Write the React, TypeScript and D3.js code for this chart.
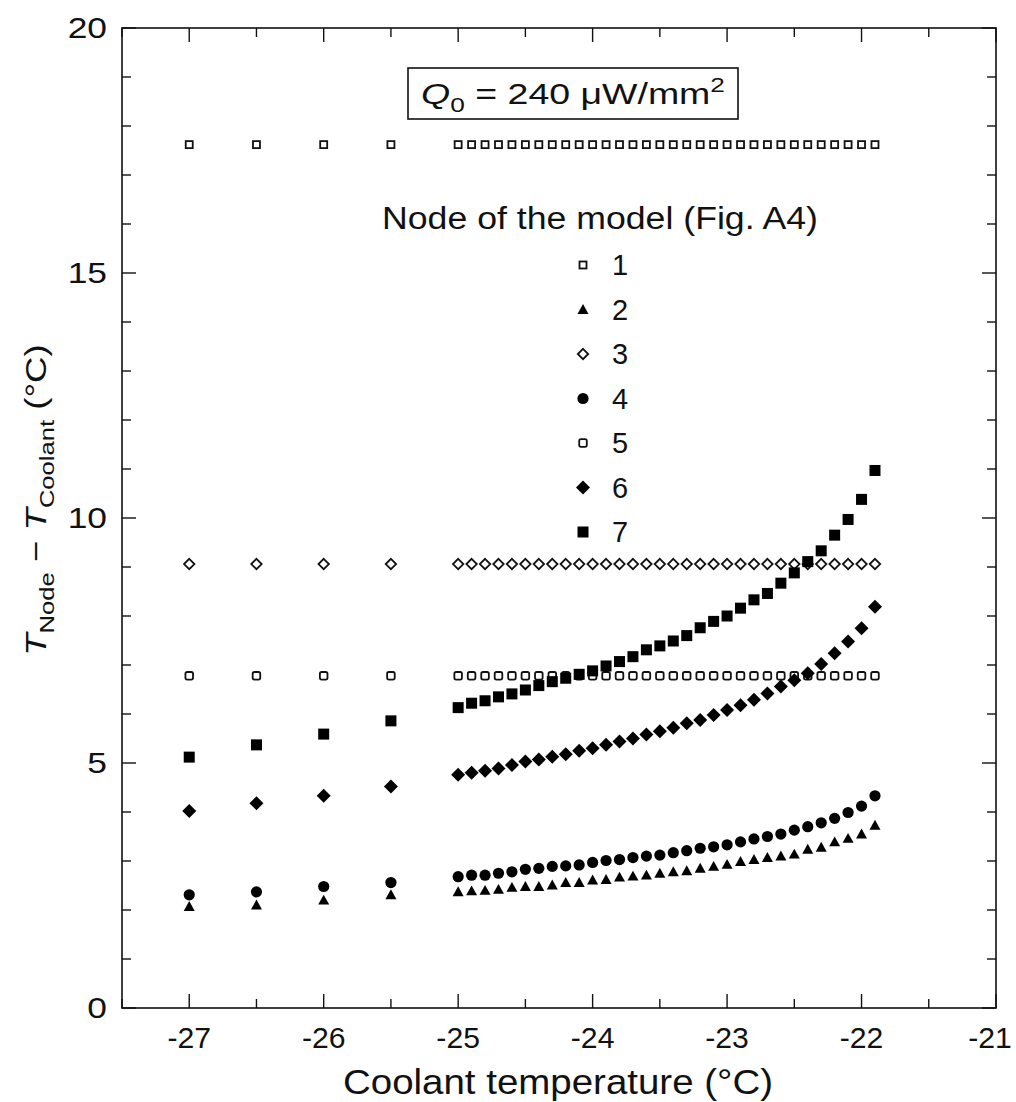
import React from "react";
import * as d3 from "d3";

const xSparse = [-27, -26.5, -26, -25.5];
const xDense = [-25, -24.9, -24.8, -24.7, -24.6, -24.5, -24.4, -24.3, -24.2, -24.1, -24, -23.9, -23.8, -23.7, -23.6, -23.5, -23.4, -23.3, -23.2, -23.1, -23, -22.9, -22.8, -22.7, -22.6, -22.5, -22.4, -22.3, -22.2, -22.1, -22, -21.9];

const node1Sparse = [17.62, 17.62, 17.62, 17.62];
const node1Dense = [17.62, 17.62, 17.62, 17.62, 17.62, 17.62, 17.62, 17.62, 17.62, 17.62, 17.62, 17.62, 17.62, 17.62, 17.62, 17.62, 17.62, 17.62, 17.62, 17.62, 17.62, 17.62, 17.62, 17.62, 17.62, 17.62, 17.62, 17.62, 17.62, 17.62, 17.62, 17.62];

const node2Sparse = [2.07, 2.1, 2.2, 2.31];
const node2Dense = [2.37, 2.39, 2.4, 2.42, 2.46, 2.48, 2.48, 2.51, 2.56, 2.56, 2.61, 2.62, 2.67, 2.69, 2.71, 2.75, 2.78, 2.8, 2.85, 2.89, 2.93, 2.99, 3.03, 3.07, 3.1, 3.14, 3.24, 3.28, 3.39, 3.46, 3.55, 3.73];

const node3Sparse = [9.06, 9.06, 9.06, 9.06];
const node3Dense = [9.06, 9.06, 9.06, 9.06, 9.06, 9.06, 9.06, 9.06, 9.06, 9.06, 9.06, 9.06, 9.06, 9.06, 9.06, 9.06, 9.06, 9.06, 9.06, 9.06, 9.06, 9.06, 9.06, 9.06, 9.06, 9.06, 9.06, 9.06, 9.06, 9.06, 9.06, 9.06];

const node4Sparse = [2.31, 2.37, 2.48, 2.56];
const node4Dense = [2.68, 2.71, 2.71, 2.75, 2.78, 2.83, 2.85, 2.89, 2.9, 2.92, 2.97, 3.01, 3.03, 3.07, 3.1, 3.12, 3.17, 3.21, 3.26, 3.29, 3.33, 3.39, 3.45, 3.5, 3.55, 3.63, 3.7, 3.78, 3.87, 3.99, 4.12, 4.33];

const node5Sparse = [6.78, 6.78, 6.78, 6.78];
const node5Dense = [6.78, 6.78, 6.78, 6.78, 6.78, 6.78, 6.78, 6.78, 6.78, 6.78, 6.78, 6.78, 6.78, 6.78, 6.78, 6.78, 6.78, 6.78, 6.78, 6.78, 6.78, 6.78, 6.78, 6.78, 6.78, 6.78, 6.78, 6.78, 6.78, 6.78, 6.78, 6.78];

const node6Sparse = [4.02, 4.18, 4.33, 4.52];
const node6Dense = [4.76, 4.8, 4.84, 4.89, 4.96, 5.03, 5.07, 5.13, 5.18, 5.25, 5.3, 5.37, 5.44, 5.5, 5.58, 5.65, 5.72, 5.81, 5.88, 5.98, 6.08, 6.18, 6.29, 6.42, 6.56, 6.69, 6.83, 7.02, 7.24, 7.48, 7.75, 8.19];

const node7Sparse = [5.12, 5.37, 5.59, 5.86];
const node7Dense = [6.13, 6.22, 6.27, 6.35, 6.41, 6.49, 6.58, 6.66, 6.73, 6.81, 6.88, 6.98, 7.07, 7.17, 7.31, 7.39, 7.49, 7.6, 7.76, 7.89, 8.0, 8.16, 8.33, 8.46, 8.67, 8.88, 9.11, 9.33, 9.65, 9.97, 10.38, 10.97];

const nodeLabels = ["1", "2", "3", "4", "5", "6", "7"];
const xTicks = [-27, -26, -25, -24, -23, -22, -21];
const yTicks = [0, 5, 10, 15, 20];

type Marker = "openSquare" | "triangle" | "openDiamond" | "circle" | "openSquare2" | "diamond" | "square";

const series: { name: string; marker: Marker; sparse: number[]; dense: number[] }[] = [
  { name: nodeLabels[0], marker: "openSquare", sparse: node1Sparse, dense: node1Dense },
  { name: nodeLabels[1], marker: "triangle", sparse: node2Sparse, dense: node2Dense },
  { name: nodeLabels[2], marker: "openDiamond", sparse: node3Sparse, dense: node3Dense },
  { name: nodeLabels[3], marker: "circle", sparse: node4Sparse, dense: node4Dense },
  { name: nodeLabels[4], marker: "openSquare2", sparse: node5Sparse, dense: node5Dense },
  { name: nodeLabels[5], marker: "diamond", sparse: node6Sparse, dense: node6Dense },
  { name: nodeLabels[6], marker: "square", sparse: node7Sparse, dense: node7Dense },
];

const W = 1016;
const H = 1102;
const L = 122, R = 996, T = 28, B = 1008;

const x = d3.scaleLinear().domain([-27.5, -21]).range([L, R]);
const y = d3.scaleLinear().domain([0, 20]).range([B, T]);

function MarkerShape({ m, cx, cy }: { m: Marker; cx: number; cy: number }) {
  switch (m) {
    case "openSquare":
      return <rect x={cx - 3.5} y={cy - 3.5} width={7} height={7} fill="white" stroke="#111" strokeWidth={1.8} />;
    case "openSquare2":
      return <rect x={cx - 3.8} y={cy - 3.8} width={7.6} height={7.6} rx={1.8} fill="white" stroke="#111" strokeWidth={1.8} />;
    case "openDiamond": {
      const s = 5.2;
      return <path d={`M${cx},${cy - s}L${cx + s},${cy}L${cx},${cy + s}L${cx - s},${cy}Z`} fill="white" stroke="#111" strokeWidth={1.8} />;
    }
    case "triangle": {
      const s = 5.5;
      return <path d={`M${cx},${cy - s}L${cx + s},${cy + s * 0.8}L${cx - s},${cy + s * 0.8}Z`} fill="#000" />;
    }
    case "circle":
      return <circle cx={cx} cy={cy} r={5.6} fill="#000" />;
    case "diamond": {
      const s = 7;
      return <path d={`M${cx},${cy - s}L${cx + s},${cy}L${cx},${cy + s}L${cx - s},${cy}Z`} fill="#000" />;
    }
    case "square":
      return <rect x={cx - 5.5} y={cy - 5.5} width={11} height={11} fill="#000" />;
  }
}

export default function App() {
  const font = "'Liberation Sans', Arial, Helvetica, sans-serif";
  const xMinor = d3.range(-27.5, -20.9, 0.5);
  const yMinor = d3.range(0, 20.01, 1);
  const drawOrder = [0, 2, 4, 1, 3, 5, 6];
  const legendX = 583;
  const legendY0 = 265;
  const legendDy = 44.5;

  return (
    <svg width={W} height={H} style={{ display: "block", position: "absolute", left: 0, top: 0, background: "white" }} fontFamily={font}>
      <rect x={0} y={0} width={W} height={H} fill="white" />
      {/* ticks */}
      <g stroke="#111" strokeWidth={1.4}>
        {xMinor.map((v, i) => {
          const major = Math.abs(v - Math.round(v)) < 1e-6;
          const len = major ? 14 : 9;
          return (
            <g key={"xt" + i}>
              <line x1={x(v)} x2={x(v)} y1={B} y2={B - len} />
              <line x1={x(v)} x2={x(v)} y1={T} y2={T + len} />
            </g>
          );
        })}
        {yMinor.map((v, i) => {
          const major = v % 5 === 0;
          const len = major ? 14 : 9;
          return (
            <g key={"yt" + i}>
              <line x1={L} x2={L + len} y1={y(v)} y2={y(v)} />
              <line x1={R} x2={R - len} y1={y(v)} y2={y(v)} />
            </g>
          );
        })}
      </g>
      <rect x={L} y={T} width={R - L} height={B - T} fill="none" stroke="#111" strokeWidth={1.6} />
      {/* tick labels */}
      {xTicks.map((v) => (
        <text key={"xl" + v} transform={`translate(${Math.min(x(v), 990)},${B + 40}) scale(1.04,1)`} textAnchor="middle" fontSize={29} fill="#111">
          {v}
        </text>
      ))}
      {yTicks.map((v) => (
        <text key={"yl" + v} transform={`translate(${L - 15},${y(v) + 10}) scale(1.22,1)`} textAnchor="end" fontSize={29} fill="#111">
          {v}
        </text>
      ))}
      {/* axis titles */}
      <text x={558} y={1094} textAnchor="middle" fontSize={35} fill="#111" textLength={430} lengthAdjust="spacingAndGlyphs">
        Coolant temperature (°C)
      </text>
      <text transform={`translate(46,${500}) rotate(-90) scale(1.22,1)`} textAnchor="middle" fontSize={30} fill="#111">
        <tspan fontStyle="italic">T</tspan>
        <tspan fontSize={21} dy={8}>Node</tspan>
        <tspan dy={-8}> − </tspan>
        <tspan fontStyle="italic">T</tspan>
        <tspan fontSize={21} dy={8}>Coolant</tspan>
        <tspan dy={-8}> (°C)</tspan>
      </text>
      {/* title box */}
      <rect x={408} y={68} width={330} height={51} fill="white" stroke="#111" strokeWidth={1.6} />
      <text transform={`translate(573,104) scale(1.25,1)`} textAnchor="middle" fontSize={30} fill="#111">
        <tspan fontStyle="italic">Q</tspan>
        <tspan fontSize={21} dy={8}>0</tspan>
        <tspan dy={-8}> = 240 μW/mm</tspan>
        <tspan fontSize={21} dy={-12}>2</tspan>
      </text>
      {/* data */}
      {drawOrder.map((si) => {
        const s = series[si];
        const pts = [
          ...xSparse.map((xv, i) => [xv, s.sparse[i]]),
          ...xDense.map((xv, i) => [xv, s.dense[i]]),
        ];
        return (
          <g key={"s" + si}>
            {pts.map(([xv, yv], i) => (
              <MarkerShape key={i} m={s.marker} cx={x(xv)} cy={y(yv)} />
            ))}
          </g>
        );
      })}
      {/* legend */}
      <text x={600} y={229} textAnchor="middle" fontSize={31} fill="#111" textLength={436} lengthAdjust="spacingAndGlyphs">
        Node of the model (Fig. A4)
      </text>
      {series.map((s, i) => (
        <g key={"lg" + i}>
          <MarkerShape m={s.marker} cx={legendX} cy={legendY0 + i * legendDy} />
          <text x={612} y={legendY0 + i * legendDy + 10} fontSize={29} fill="#111">
            {s.name}
          </text>
        </g>
      ))}
    </svg>
  );
}
